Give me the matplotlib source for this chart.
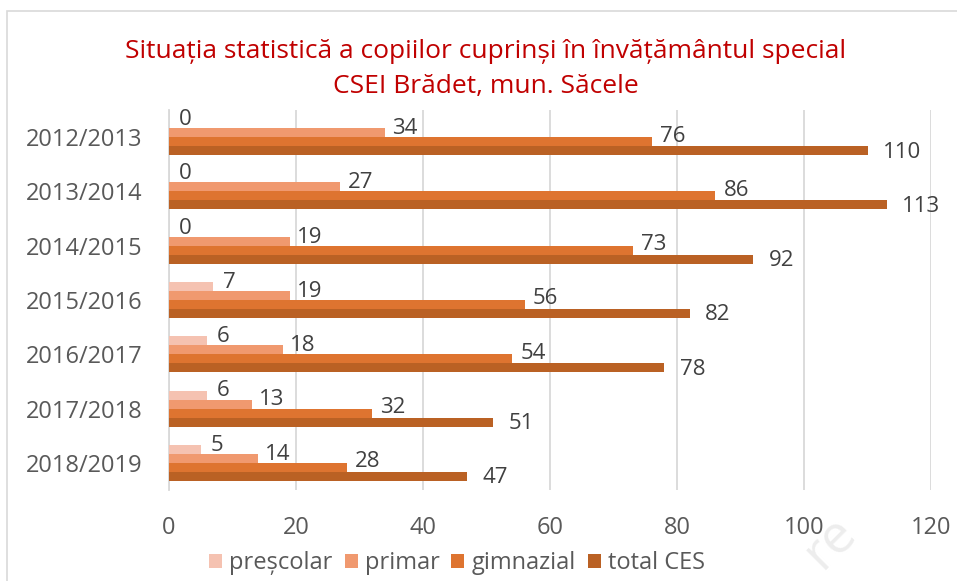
import matplotlib.pyplot as plt
import matplotlib.patches as patches
import numpy as np

plt.rcParams['font.family'] = ['Open Sans', 'DejaVu Sans']

# date din grafic
ani = ["2012/2013", "2013/2014", "2014/2015", "2015/2016",
       "2016/2017", "2017/2018", "2018/2019"]
prescolar = [0, 0, 0, 7, 6, 6, 5]
primar = [34, 27, 19, 19, 18, 13, 14]
gimnazial = [76, 86, 73, 56, 54, 32, 28]
total_ces = [110, 113, 92, 82, 78, 51, 47]

serii = ["preșcolar", "primar", "gimnazial", "total CES"]
culori = ["#F5C2B1", "#F0996F", "#DE7430", "#BA6124"]
# decalaj etichete (puncte) pe serie, aproximativ ca in Excel
dx_pt = [7, 5, 6, 11]
dy_pt = [3, 3, 4, -1]

fig = plt.figure(figsize=(9.57, 5.81), dpi=100)
ax = fig.add_axes([169 / 957, 1 - 490 / 581, (931 - 169) / 957, 380 / 581])

# chenar exterior
fig.patches.append(patches.Rectangle((7 / 957, -0.01), 1.0, 1 - 11 / 581 + 0.01,
                                     transform=fig.transFigure, fill=False,
                                     edgecolor="#D9D9D9", linewidth=1.2))

y = np.arange(len(ani))
h = 0.166
for i, (vals, nume) in enumerate(zip([prescolar, primar, gimnazial, total_ces], serii)):
    pos = y + (i - 1.5) * h
    ax.barh(pos, vals, height=h, color=culori[i], label=nume, zorder=3)
    for p, v in zip(pos, vals):
        ax.annotate(str(v), (v, p), xytext=(dx_pt[i], dy_pt[i]), textcoords="offset points",
                    ha="left", va="center", fontsize=16, color="#404040", zorder=4)

ax.set_xlim(0, 120)
ax.set_ylim(len(ani) - 0.5, -0.5)
ax.set_xticks(range(0, 121, 20))
ax.set_yticks(y)
ax.set_yticklabels(ani)
ax.tick_params(axis="both", length=0, labelsize=17, labelcolor="#595959")
ax.tick_params(axis="x", pad=19)
ax.tick_params(axis="y", pad=19)
ax.grid(axis="x", color="#D9D9D9", linewidth=1.3, zorder=0)
for s in ["top", "right", "bottom"]:
    ax.spines[s].set_visible(False)
ax.spines["left"].set_color("#D9D9D9")
ax.spines["left"].set_linewidth(1.3)

fig.text(486 / 957, 1 - 69 / 581,
         "Situația statistică a copiilor cuprinși în învățământul special\nCSEI Brădet, mun. Săcele",
         ha="center", va="center", fontsize=19, color="#C00000", linespacing=1.5)

ax.legend(loc="center", bbox_to_anchor=(457 / 957, 1 - 563 / 581), bbox_transform=fig.transFigure,
          ncol=4, frameon=False, fontsize=17, handlelength=0.55, handleheight=0.55,
          handletextpad=0.3, columnspacing=0.5, labelcolor="#595959")

# urma de watermark din colt
fig.text(830 / 957, 1 - 543 / 581, "re", fontsize=38, color="#EDEDED", rotation=45,
         ha="center", va="center", zorder=0)

fig.savefig("out.png", dpi=100)
